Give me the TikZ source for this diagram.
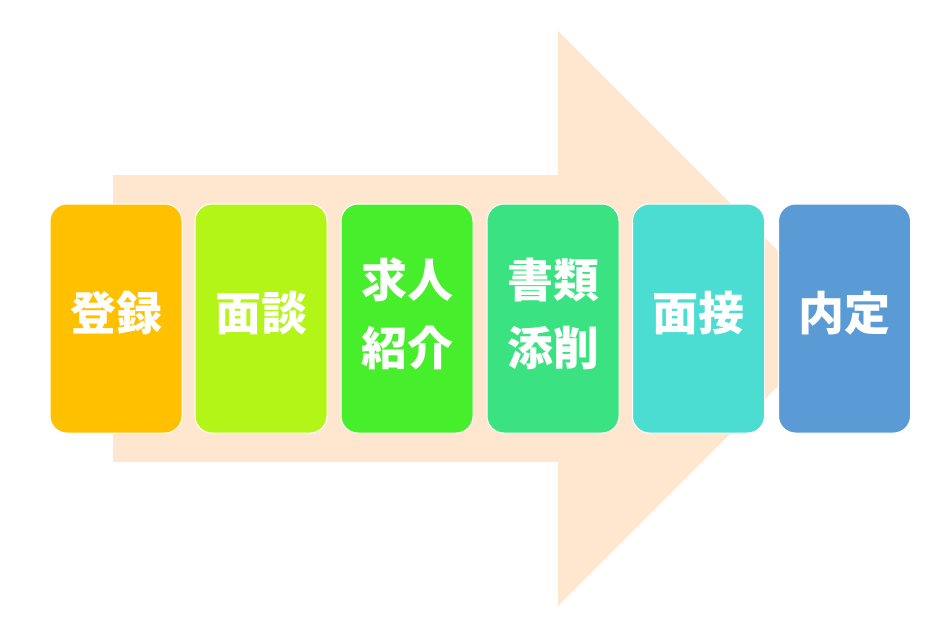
\documentclass[tikz,border=0pt]{standalone}
\usepackage{fontspec}
\newfontfamily\cjk{Noto Sans CJK JP}
\definecolor{arrowc}{HTML}{FEE7CE}
\definecolor{c1}{HTML}{FFC000}
\definecolor{c2}{HTML}{B3F517}
\definecolor{c3}{HTML}{47EE2B}
\definecolor{c4}{HTML}{3BE282}
\definecolor{c5}{HTML}{4BDDD2}
\definecolor{c6}{HTML}{5B9BD5}
\tikzset{
  stepbox/.style={draw=white, line width=1pt, rounded corners=17pt,
    minimum width=132pt, minimum height=229pt, inner sep=0pt},
  steptext/.style={text=white, align=center, inner sep=0pt,
    font=\cjk\bfseries\fontsize{46pt}{68pt}\selectfont}
}
\begin{document}
\begin{tikzpicture}[x=1pt,y=-1pt]
\useasboundingbox (0,0) rectangle (935,635);
\fill[arrowc] (113,175) -- (558,175) -- (558,31) -- (845.5,318.5) -- (558,606) -- (558,462) -- (113,462) -- cycle;
\node[stepbox, fill=c1] (b1) at (116,318.5) {};
\node[stepbox, fill=c2] (b2) at (261,318.5) {};
\node[stepbox, fill=c3] (b3) at (407,318.5) {};
\node[stepbox, fill=c4] (b4) at (553,318.5) {};
\node[stepbox, fill=c5] (b5) at (698.5,318.5) {};
\node[stepbox, fill=c6] (b6) at (844.5,318.5) {};
\node[steptext] (t1) at ([yshift=5pt]b1.center) {登録};
\node[steptext] (t2) at ([yshift=5pt]b2.center) {面談};
\node[steptext] (t3) at ([yshift=5pt]b3.center) {求人\\紹介};
\node[steptext] (t4) at ([yshift=5pt]b4.center) {書類\\添削};
\node[steptext] (t5) at ([yshift=5pt]b5.center) {面接};
\node[steptext] (t6) at ([yshift=5pt]b6.center) {内定};
\end{tikzpicture}
\end{document}
